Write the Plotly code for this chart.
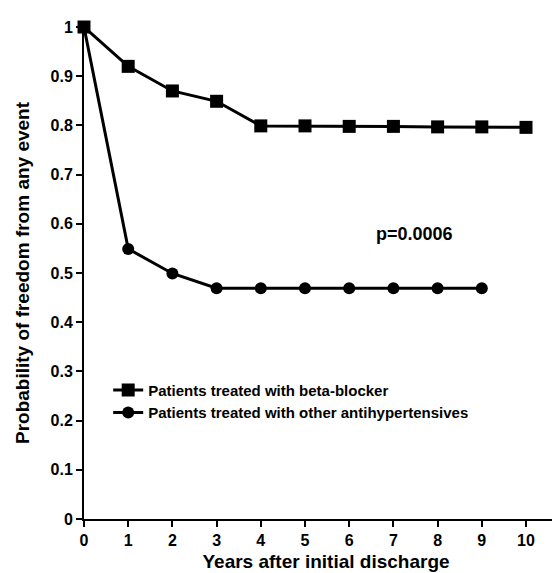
import plotly.graph_objects as go

years_bb = [0, 1, 2, 3, 4, 5, 6, 7, 8, 9, 10]
beta_blocker = [1.0, 0.92, 0.87, 0.849, 0.799, 0.799, 0.798, 0.798, 0.797, 0.797, 0.796]
years_oth = [0, 1, 2, 3, 4, 5, 6, 7, 8, 9]
other_anti = [1.0, 0.549, 0.499, 0.469, 0.469, 0.469, 0.469, 0.469, 0.469, 0.469]
x_ticks = [0, 1, 2, 3, 4, 5, 6, 7, 8, 9, 10]
y_ticks = [0, 0.1, 0.2, 0.3, 0.4, 0.5, 0.6, 0.7, 0.8, 0.9, 1]
y_tick_labels = ["0", "0.1", "0.2", "0.3", "0.4", "0.5", "0.6", "0.7", "0.8", "0.9", "1"]

FONT = "Liberation Sans, Arial, sans-serif"

fig = go.Figure()
fig.add_trace(go.Scatter(
    x=years_bb, y=beta_blocker, mode="lines+markers",
    name="<b>Patients treated with beta-blocker</b>",
    line=dict(color="black", width=3),
    marker=dict(symbol="square", size=13, color="black"),
    cliponaxis=False,
))
fig.add_trace(go.Scatter(
    x=years_oth, y=other_anti, mode="lines+markers",
    name="<b>Patients treated with other antihypertensives</b>",
    line=dict(color="black", width=3),
    marker=dict(symbol="circle", size=12, color="black"),
    cliponaxis=False,
))

fig.add_annotation(x=7.47, y=0.579, xref="x", yref="y", text="<b>p=0.0006</b>",
                   showarrow=False, font=dict(family=FONT, size=18, color="black"))

fig.update_layout(
    width=560, height=573,
    margin=dict(l=76, r=0, t=19, b=62),
    paper_bgcolor="white", plot_bgcolor="white",
    font=dict(family=FONT, size=16, color="black"),
    showlegend=True,
    legend=dict(x=0.05, y=0.295, xanchor="left", yanchor="top",
                bgcolor="rgba(0,0,0,0)", font=dict(family=FONT, size=15, color="black"),
                itemsizing="trace", tracegroupgap=0),
    xaxis=dict(range=[0, 10.95], tickmode="array", tickvals=x_ticks,
               ticktext=[f"<b>{t}</b>" for t in x_ticks],
               tickfont=dict(family=FONT, size=16),
               showgrid=False, zeroline=False, showline=True, linecolor="black", linewidth=2,
               ticks="outside", ticklen=6, tickwidth=1.5, tickcolor="black",
               title=dict(text="<b>Years after initial discharge</b>", font=dict(family=FONT, size=19), standoff=6)),
    yaxis=dict(range=[0, 1.0], tickmode="array", tickvals=y_ticks,
               ticktext=[f"<b>{t}</b>" for t in y_tick_labels],
               tickfont=dict(family=FONT, size=16),
               showgrid=False, zeroline=False, showline=True, linecolor="black", linewidth=2,
               ticks="outside", ticklen=6, tickwidth=1.5, tickcolor="black",
               title=dict(text="<b>Probability of freedom from any event</b>", font=dict(family=FONT, size=19), standoff=16)),
)

fig.write_html("out.html")
